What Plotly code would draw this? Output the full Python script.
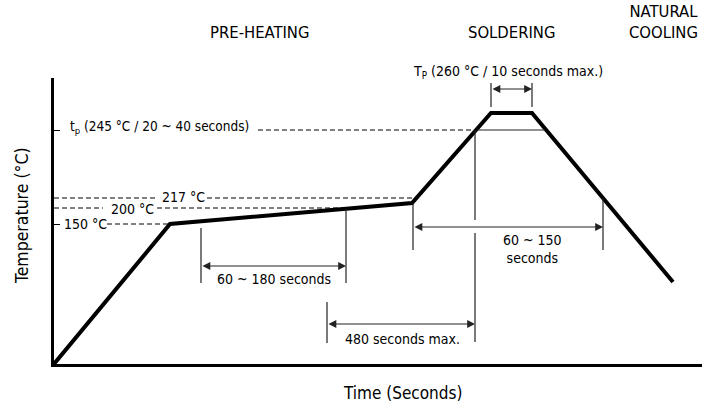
import plotly.graph_objects as go

# ---- schematic data (arbitrary time / temperature units of the diagram) ----
profile_t = [0, 116, 358, 437, 478, 619]
profile_temp = [0, 140, 161, 251, 251, 82]

# reference temperature levels (schematic units)
lvl_150 = 140
lvl_200 = 156
lvl_217 = 166
lvl_tp = 234
lvl_TP = 275

# dashed reference lines: segments (x0, x1) and level
dash_150_x = [53, 116]
dash_200_x = [[0, 49], [103, 290]]
dash_217_x = [[0, 103], [153, 362]]
dash_tp_x = [204, 422]
solid_tp_x = [422, 491]

# dimension lines
dim_pre_x = [147, 292]          # 60 ~ 180 seconds
dim_pre_top = [136, 155]
dim_pre_bottom = 81
dim_pre_arrow_y = 98

dim_480_x = [273, 421]          # 480 seconds max.
dim_480_left_y = [62, 21]
dim_480_right_y = [[234, 144], [131, 22]]
dim_480_arrow_y = 40

dim_sol_x = [359, 549]          # 60 ~ 150 seconds
dim_sol_top = [161, 166]
dim_sol_bottom = 114
dim_sol_arrow_y = 137

dim_TP_x = [437, 478]
dim_TP_y = [257, 281]

ytick_vals = [lvl_150, lvl_tp]

X_RANGE = [0, 648]
Y_RANGE = [0, 286]

phase_labels = ["PRE-HEATING", "SOLDERING", "NATURAL<br>COOLING"]
phase_x = [205, 457, 609]
phase_y = [332, 332, 342]

FONT = "DejaVu Sans Condensed, Liberation Sans, sans-serif"
FS = 14
FS_HEAD = 16.5
DIM_COLOR = "#222222"

fig = go.Figure()

# profile
fig.add_trace(go.Scatter(x=profile_t, y=profile_temp, mode="lines",
                         line=dict(color="black", width=4), hoverinfo="skip"))

# dashed lines
dx, dy = [], []
def seg(xs, y):
    dx.extend([xs[0], xs[1], None]); dy.extend([y, y, None])
seg(dash_150_x, lvl_150)
for s in dash_200_x:
    seg(s, lvl_200)
for s in dash_217_x:
    seg(s, lvl_217)
seg(dash_tp_x, lvl_tp)
fig.add_trace(go.Scatter(x=dx, y=dy, mode="lines",
                         line=dict(color="black", width=1, dash="5px,3px"),
                         hoverinfo="skip"))

# thin solid dimension lines
sx, sy = [], []
def vseg(x, y0, y1):
    sx.extend([x, x, None]); sy.extend([y0, y1, None])
sx.extend([solid_tp_x[0], solid_tp_x[1], None]); sy.extend([lvl_tp, lvl_tp, None])
vseg(dim_pre_x[0], dim_pre_top[0], dim_pre_bottom)
vseg(dim_pre_x[1], dim_pre_top[1], dim_pre_bottom)
vseg(dim_480_x[0], dim_480_left_y[0], dim_480_left_y[1])
for s in dim_480_right_y:
    vseg(dim_480_x[1], s[0], s[1])
vseg(dim_sol_x[0], dim_sol_top[0], dim_sol_bottom)
vseg(dim_sol_x[1], dim_sol_top[1], dim_sol_bottom)
vseg(dim_TP_x[0], dim_TP_y[0], dim_TP_y[1])
vseg(dim_TP_x[1], dim_TP_y[0], dim_TP_y[1])
fig.add_trace(go.Scatter(x=sx, y=sy, mode="lines",
                         line=dict(color=DIM_COLOR, width=1.2), hoverinfo="skip"))

def dim_arrow(x0, x1, y):
    fig.add_annotation(x=x1, y=y, ax=x0, ay=y, xref="x", yref="y",
                       axref="x", ayref="y", text="", showarrow=True,
                       arrowhead=2, arrowside="end+start", arrowsize=1.3,
                       arrowwidth=1.2, arrowcolor=DIM_COLOR,
                       standoff=0, startstandoff=0)

dim_arrow(dim_pre_x[0], dim_pre_x[1], dim_pre_arrow_y)
dim_arrow(dim_480_x[0], dim_480_x[1], dim_480_arrow_y)
dim_arrow(dim_sol_x[0], dim_sol_x[1], dim_sol_arrow_y)
dim_arrow(dim_TP_x[0], dim_TP_x[1], lvl_TP)

def px(x):
    return (x - X_RANGE[0]) / (X_RANGE[1] - X_RANGE[0])

def py(y):
    return (y - Y_RANGE[0]) / (Y_RANGE[1] - Y_RANGE[0])

def label(x, y, text, xanchor="center", size=FS, angle=0):
    # placed in paper coordinates so labels outside the plot area still show
    fig.add_annotation(x=px(x), y=py(y), xref="paper", yref="paper", text=text,
                       showarrow=False, xanchor=xanchor, yanchor="middle",
                       textangle=angle,
                       font=dict(family=FONT, size=size, color="black"))

for t, x, y in zip(phase_labels, phase_x, phase_y):
    label(x, y, t, size=FS_HEAD)

label(454, 292, "T<sub>P</sub> (260 °C / 10 seconds max.)")
label(14, 237, "t<sub>p</sub> (245 °C / 20 ~ 40 seconds)", xanchor="left", size=13.5)
label(31, lvl_150, "150 °C")
label(78, lvl_200 - 1, "200 °C")
label(129, lvl_217 + 1, "217 °C")
label(220, 85, "60 ~ 180 seconds")
label(349, 25, "480 seconds max.")
label(478, 115, "60 ~ 150<br>seconds")
label(348, -29, "Time (Seconds)", size=17)
label(-32, 148, "Temperature (°C)", angle=-90, size=17.5)

fig.update_layout(
    width=702, height=406,
    margin=dict(l=54, r=0, t=78, b=42),
    paper_bgcolor="white", plot_bgcolor="white",
    showlegend=False,
    xaxis=dict(range=X_RANGE, showgrid=False, zeroline=False,
               showline=True, linecolor="black", linewidth=2.5,
               showticklabels=False, ticks=""),
    yaxis=dict(range=Y_RANGE, showgrid=False, zeroline=False,
               showline=True, linecolor="black", linewidth=2.5,
               showticklabels=False, tickvals=ytick_vals, ticks="inside",
               ticklen=6, tickwidth=1.2, tickcolor="black"),
)

fig.write_html("out.html", config={"displayModeBar": False},
               post_script="document.body.style.margin='0';")
